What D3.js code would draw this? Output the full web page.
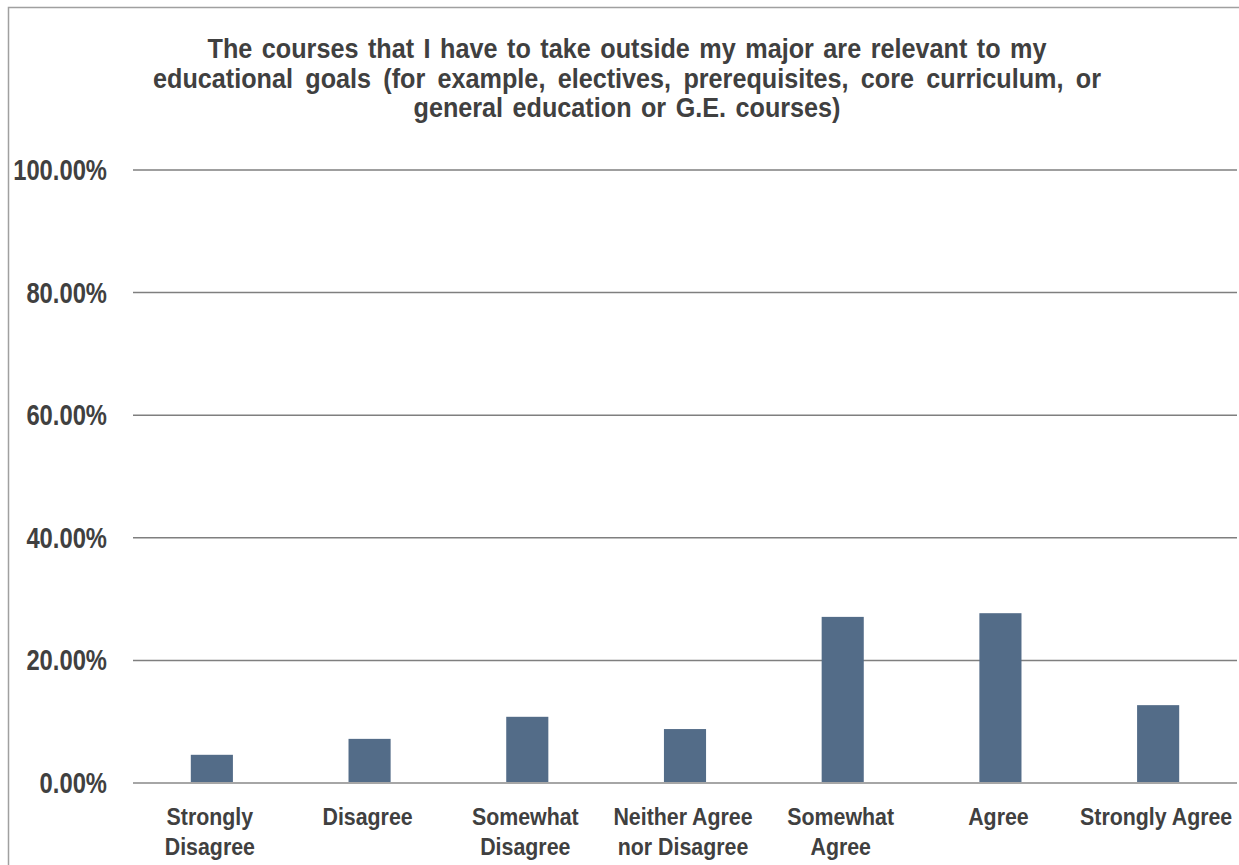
<!DOCTYPE html>
<html>
<head>
<meta charset="utf-8">
<script src="https://cdn.jsdelivr.net/npm/d3@7"></script>
<style>
  html, body { margin: 0; padding: 0; background: #fff; }
  svg { display: block; }
  text { font-family: "Liberation Sans", Arial, sans-serif; font-weight: bold; fill: #404040; }
</style>
</head>
<body>
<svg id="chart" width="1239" height="865"></svg>
<script>
const titleLines = [
  "The courses that I have to take outside my major are relevant to my",
  "educational goals (for example, electives, prerequisites, core curriculum, or",
  "general education or G.E. courses)"
];
const categories = [
  ["Strongly", "Disagree"],
  ["Disagree"],
  ["Somewhat", "Disagree"],
  ["Neither Agree", "nor Disagree"],
  ["Somewhat", "Agree"],
  ["Agree"],
  ["Strongly Agree"]
];
const values = [4.6, 7.2, 10.8, 8.8, 27.1, 27.7, 12.7];
const yTicks = [0, 20, 40, 60, 80, 100];

const svg = d3.select("#chart");
const plot = { left: 133, right: 1237, top: 170, bottom: 783 };

// frame
svg.append("path")
  .attr("d", "M8.5,870 V7.5 H1245")
  .attr("fill", "none").attr("stroke", "#a0a0a0").attr("stroke-width", 1.5);

const x = d3.scaleBand().domain(d3.range(categories.length)).range([plot.left, plot.right]).paddingInner(0.733).paddingOuter(0.3665);
const y = d3.scaleLinear().domain([0, 100]).range([plot.bottom, plot.top]);

// gridlines
svg.append("g").selectAll("line").data(yTicks.filter(d => d > 0)).join("line")
  .attr("x1", plot.left).attr("x2", plot.right)
  .attr("y1", d => y(d)).attr("y2", d => y(d))
  .attr("stroke", "#7f7f7f").attr("stroke-width", 1.5);

// y labels (condensed)
svg.append("g").selectAll("text").data(yTicks).join("text")
  .attr("transform", d => `translate(107,${y(d) + 10}) scale(0.82,1)`)
  .attr("text-anchor", "end").attr("font-size", 29)
  .text(d => d.toFixed(2) + "%");

// bars
svg.append("g").selectAll("rect").data(values).join("rect")
  .attr("x", (d, i) => x(i)).attr("width", x.bandwidth())
  .attr("y", d => y(d)).attr("height", d => y(0) - y(d))
  .attr("fill", "#536c88");

// baseline
svg.append("line").attr("x1", plot.left).attr("x2", plot.right)
  .attr("y1", y(0)).attr("y2", y(0))
  .attr("stroke", "#a6a6a6").attr("stroke-width", 2);

// category labels
const cx = i => x(i) + x.bandwidth() / 2;
const cg = svg.append("g").selectAll("text").data(categories).join("text")
  .attr("text-anchor", "middle").attr("font-size", 24)
  .attr("transform", (d, i) => `translate(${cx(i) - 2},0) scale(0.89,1)`);
cg.selectAll("tspan").data(d => d).join("tspan")
  .attr("x", 0).attr("y", (d, j) => 825 + j * 30).text(d => d);

// title (condensed, slightly wide word spacing)
const titleWidths = [839, 948, 427];
const sx = 0.9;
const tt = svg.append("g").selectAll("text").data(titleLines).join("text")
  .attr("transform", (d, i) => `translate(627,${58 + i * 29.5}) scale(${sx},1)`)
  .attr("text-anchor", "middle").attr("font-size", 28)
  .text(d => d);
tt.each(function(d, i) {
  const w = this.getComputedTextLength();
  const spaces = d.split(" ").length - 1;
  const ws = (titleWidths[i] / sx - w) / spaces;
  d3.select(this).attr("word-spacing", Math.max(0, ws));
});
</script>
</body>
</html>
